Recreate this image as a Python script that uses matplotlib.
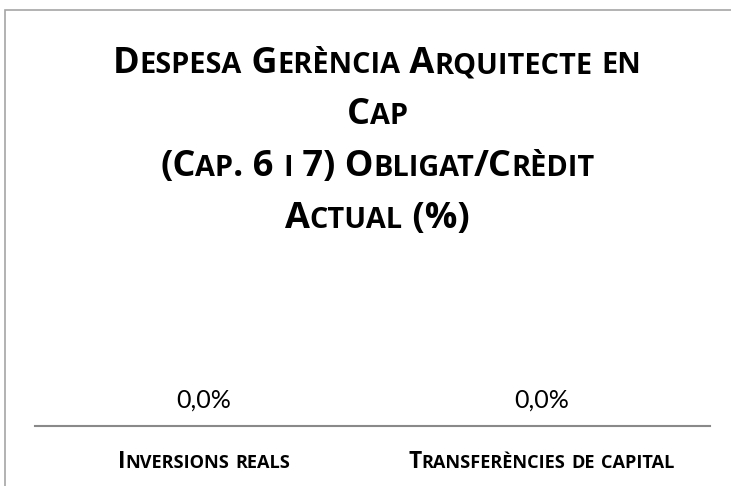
import matplotlib
matplotlib.use("Agg")
import matplotlib.pyplot as plt
from matplotlib.patches import Rectangle

# ---- data -------------------------------------------------------------
categories = ["Inversions reals", "Transferències de capital"]
values = [0.0, 0.0]
title_lines = [
    "Despesa Gerència Arquitecte en",
    "Cap",
    "(Cap. 6 i 7) Obligat/Crèdit",
    "Actual (%)",
]

W, H, DPI = 731, 486, 100
BOLD_FONT = "Open Sans"
TEXT_FONT = "Lato"

fig = plt.figure(figsize=(W / DPI, H / DPI), dpi=DPI)
renderer = fig.canvas.get_renderer()


def px_to_fig(x, y_top):
    return x / W, 1 - y_top / H


def text_width(s, size, weight, family):
    t = fig.text(0, 0, s, fontsize=size, fontweight=weight, family=family)
    w = t.get_window_extent(renderer).width
    t.remove()
    return w


def advance(s, size, weight, family):
    return (text_width("x" + s + "x", size, weight, family)
            - text_width("xx", size, weight, family))


def small_caps_runs(s):
    runs = []
    for ch in s:
        small = ch.islower()
        if runs and runs[-1][1] == small:
            runs[-1][0] += ch
        else:
            runs.append([ch, small])
    return runs


def small_caps(s, cx, y_base, size, weight="bold", ratio=0.8,
               family=BOLD_FONT, color="black"):
    pieces = []
    total = 0.0
    for txt, small in small_caps_runs(s):
        sz = size * ratio if small else size
        t = txt.upper()
        w = advance(t, sz, weight, family)
        pieces.append((t, sz, w))
        total += w
    x = cx - total / 2
    for t, sz, w in pieces:
        fx, fy = px_to_fig(x, y_base)
        fig.text(fx, fy, t, fontsize=sz, fontweight=weight, family=family,
                 ha="left", va="baseline", color=color)
        x += w


# ---- outer frame --------------------------------------------------------
fig.patches.append(Rectangle((5 / W, -0.1), 1.2, 1 - 10 / H + 0.1,
                             transform=fig.transFigure, fill=False,
                             edgecolor="#a6a6a6", linewidth=1.2))

# ---- axes -----------------------------------------------------------------
left, right, base, top = 35, 710, 426, 250
ax = fig.add_axes([left / W, 1 - base / H, (right - left) / W, (base - top) / H])
x = list(range(len(categories)))
bars = ax.bar(x, values, width=0.6, color="#4f81bd")
ax.set_xlim(-0.5, len(categories) - 0.5)
ax.set_ylim(0, 1)
for side in ("left", "right", "top"):
    ax.spines[side].set_visible(False)
ax.spines["bottom"].set_color("#898989")
ax.spines["bottom"].set_linewidth(1.5)
ax.set_xticks(x)
ax.set_xticklabels([])
ax.tick_params(length=0)
ax.set_yticks([])
ax.patch.set_alpha(0)

for xi, v in zip(x, values):
    ax.annotate(f"{v:.1f}%".replace(".", ","), xy=(xi, v), xytext=(0, 18),
                textcoords="offset pixels", ha="center", va="baseline",
                fontsize=18, family=TEXT_FONT, color="black")

# category labels in small caps below the axis
for xi, cat in zip(x, categories):
    px = ax.transData.transform((xi, 0))[0]
    small_caps(cat, px, 468, 16.3, weight="bold")

# ---- title ------------------------------------------------------------------
for i, line in enumerate(title_lines):
    small_caps(line, 377, 73 + i * 51.5, 26, weight="bold")

fig.savefig("out.png", dpi=DPI)
